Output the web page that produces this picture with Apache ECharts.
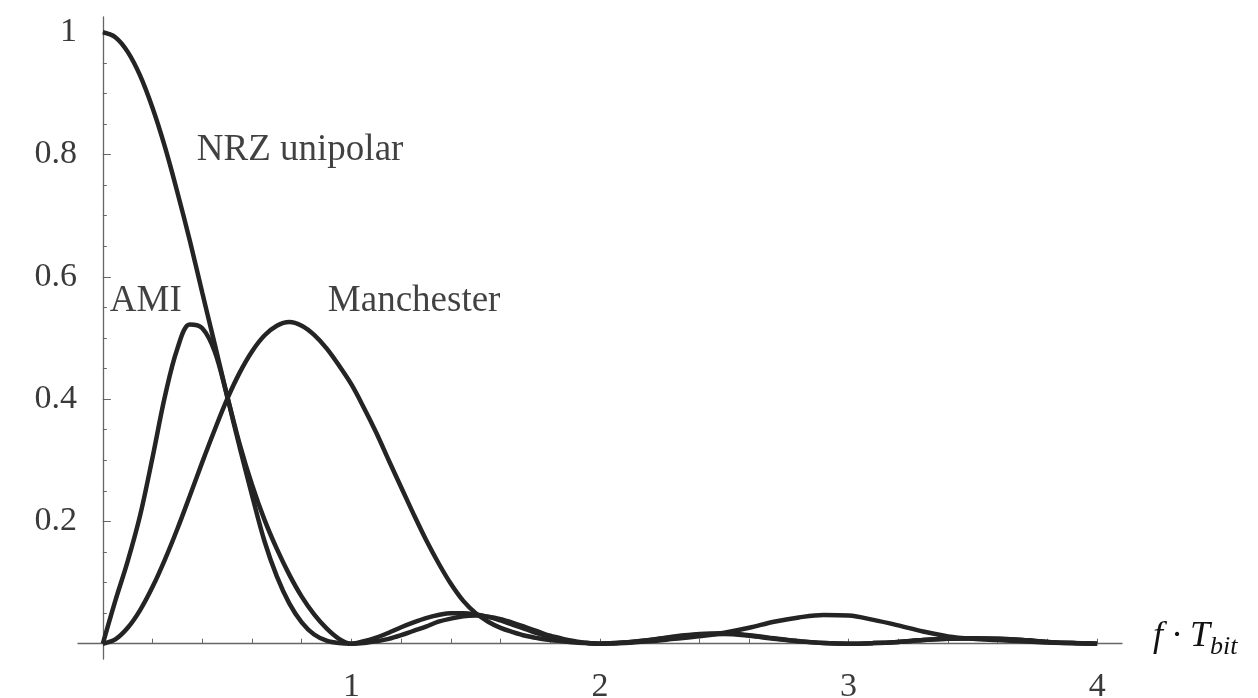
<!DOCTYPE html>
<html>
<head>
<meta charset="utf-8">
<script src="https://cdn.jsdelivr.net/npm/echarts@6/dist/echarts.min.js"></script>
<style>
  html, body { margin: 0; background: #fff; }
  #chart { width: 1258px; height: 698px; }
</style>
</head>
<body>
<div id="chart"></div>
<script>
// frequency axis (f * T_bit): fine steps up to 2, coarser after
const freq = [0, 0.05, 0.1, 0.15, 0.2, 0.25, 0.3, 0.35, 0.4, 0.45, 0.5, 0.55, 0.6, 0.65, 0.7, 0.75, 0.8, 0.85, 0.9, 0.95,
  1.0, 1.05, 1.1, 1.15, 1.2, 1.25, 1.3, 1.35, 1.4, 1.45, 1.5, 1.55, 1.6, 1.65, 1.7, 1.75, 1.8, 1.85, 1.9, 1.95,
  2.0, 2.1, 2.2, 2.3, 2.4, 2.5, 2.6, 2.7, 2.8, 2.9, 3.0, 3.1, 3.2, 3.3, 3.4, 3.5, 3.6, 3.7, 3.8, 3.9, 4.0];

const nrzUnipolar = [1.0, 0.992, 0.968, 0.929, 0.876, 0.812, 0.738, 0.659, 0.574, 0.49, 0.405, 0.322, 0.243, 0.168, 0.11, 0.066, 0.035, 0.015, 0.005, 0.001,
  0, 0.001, 0.004, 0.008, 0.014, 0.021, 0.028, 0.036, 0.041, 0.045, 0.046, 0.044, 0.04, 0.034, 0.027, 0.02, 0.013, 0.008, 0.004, 0.001,
  0, 0.002, 0.006, 0.011, 0.015, 0.016, 0.013, 0.008, 0.004, 0.001, 0, 0.001, 0.003, 0.006, 0.008, 0.009, 0.008, 0.006, 0.003, 0.001, 0];

const ami = [0, 0.07, 0.135, 0.21, 0.305, 0.405, 0.483, 0.522, 0.516, 0.478, 0.405, 0.327, 0.26, 0.203, 0.155, 0.113, 0.077, 0.048, 0.025, 0.008,
  0, 0.004, 0.01, 0.018, 0.027, 0.035, 0.042, 0.047, 0.05, 0.05, 0.048, 0.044, 0.038, 0.031, 0.024, 0.017, 0.011, 0.006, 0.003, 0.001,
  0, 0.002, 0.006, 0.012, 0.016, 0.017, 0.014, 0.009, 0.004, 0.001, 0, 0.001, 0.003, 0.006, 0.008, 0.009, 0.008, 0.006, 0.003, 0.001, 0];

const manchester = [0, 0.007, 0.026, 0.055, 0.093, 0.138, 0.188, 0.242, 0.297, 0.35, 0.4, 0.443, 0.478, 0.504, 0.52, 0.526, 0.52, 0.505, 0.483, 0.455,
  0.424, 0.386, 0.345, 0.3, 0.256, 0.212, 0.17, 0.132, 0.098, 0.07, 0.05, 0.036, 0.026, 0.019, 0.013, 0.009, 0.006, 0.004, 0.002, 0.001,
  0, 0.001, 0.004, 0.008, 0.012, 0.018, 0.026, 0.036, 0.043, 0.047, 0.046, 0.039, 0.03, 0.02, 0.012, 0.008, 0.006, 0.004, 0.002, 0.001, 0];

const xTickValues = [0, 0.2, 0.4, 0.6, 0.8, 1, 1.2, 1.4, 1.6, 1.8, 2, 2.2, 2.4, 2.6, 2.8, 3, 3.2, 3.4, 3.6, 3.8, 4];
const xLabelValues = [1, 2, 3, 4];
const yLabelValues = [0.2, 0.4, 0.6, 0.8, 1];
const yMajorTickValues = [0.2, 0.4, 0.6, 0.8, 1];
const yMinorTickValues = [0.05, 0.1, 0.15, 0.2, 0.25, 0.3, 0.35, 0.4, 0.45, 0.5, 0.55, 0.6, 0.65, 0.7, 0.75, 0.8, 0.85, 0.9, 0.95, 1];

const curveNames = ['NRZ unipolar', 'AMI', 'Manchester'];
const curveNameX = [0.378, 0.028, 0.905];
const curveNameY = [0.807, 0.56, 0.56];

const serif = 'Liberation Serif';
const inkColor = '#242424';

function pairs(values) {
  return freq.map((f, i) => [f, values[i]]);
}

function curve(name, values) {
  return {
    name: name,
    type: 'line',
    data: pairs(values),
    showSymbol: false,
    smooth: 0.35,
    lineStyle: { color: inkColor, width: 4.5 },
    silent: true
  };
}

const option = {
  animation: false,
  backgroundColor: '#fff',
  grid: { left: 78, right: 136, top: 17, bottom: 39, outerBoundsMode: 'none' },
  xAxis: {
    type: 'value',
    min: -0.1,
    max: 4.1,
    axisLine: { onZero: true, lineStyle: { color: '#666', width: 1.3 } },
    axisTick: { inside: true, length: 5, customValues: xTickValues, lineStyle: { color: '#666' } },
    axisLabel: {
      customValues: xLabelValues,
      margin: 16,
      lineHeight: 24,
      fontFamily: serif,
      fontSize: 34,
      color: '#3a3a3a'
    },
    splitLine: { show: false },
    name: '{m|f · T}{s|bit}',
    nameLocation: 'end',
    nameGap: 31,
    nameTextStyle: {
      padding: [0, 0, 14, 0],
      rich: {
        m: { fontFamily: serif, fontStyle: 'italic', fontSize: 36, lineHeight: 36, color: '#111' },
        s: { fontFamily: serif, fontStyle: 'italic', fontSize: 26, lineHeight: 26, padding: [20, 0, 0, 0], color: '#111' }
      }
    }
  },
  yAxis: [
    {
      type: 'value',
      min: -0.025,
      max: 1.025,
      axisLine: { show: true, onZero: true, lineStyle: { color: '#666', width: 1.3 } },
      axisTick: { show: true, inside: true, length: 4, customValues: yMinorTickValues, lineStyle: { color: '#666' } },
      axisLabel: {
        customValues: yLabelValues,
        margin: 1,
        padding: [8, 0, 0, 0],
        fontFamily: serif,
        fontSize: 34,
        color: '#3a3a3a'
      },
      splitLine: { show: false }
    },
    {
      type: 'value',
      min: -0.025,
      max: 1.025,
      position: 'left',
      axisLine: { show: false, onZero: true, onZeroAxisIndex: 0 },
      axisTick: { show: true, inside: true, length: 8, customValues: yMajorTickValues, lineStyle: { color: '#666' } },
      axisLabel: { show: false },
      splitLine: { show: false }
    }
  ],
  series: [
    curve('Manchester', manchester),
    curve('AMI', ami),
    curve('NRZ unipolar', nrzUnipolar),
    {
      type: 'scatter',
      symbolSize: 0,
      silent: true,
      data: curveNames.map((n, i) => ({ name: n, value: [curveNameX[i], curveNameY[i]] })),
      label: {
        show: true,
        position: [0, 0],
        align: 'left',
        verticalAlign: 'middle',
        formatter: '{b}',
        fontFamily: serif,
        fontSize: 37,
        color: '#111'
      }
    }
  ]
};

const chart = echarts.init(document.getElementById('chart'));
chart.setOption(option);
</script>
</body>
</html>
